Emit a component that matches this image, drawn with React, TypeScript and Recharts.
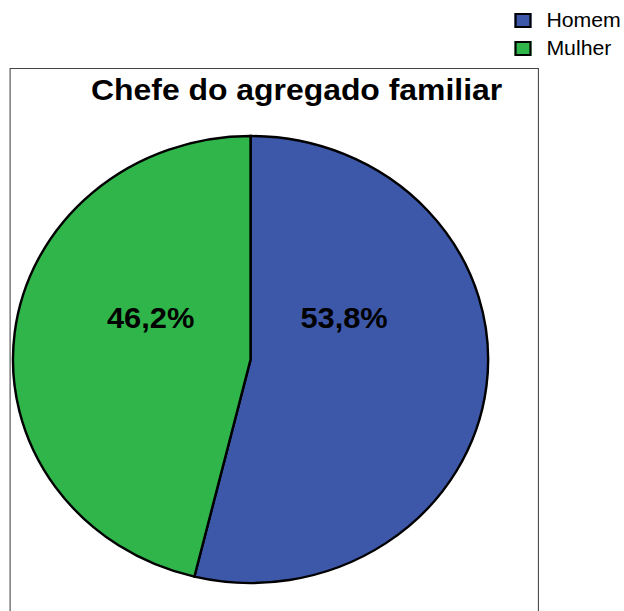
import React from "react";
import { PieChart, Pie, Cell } from "recharts";

// Values.
const categories = ["Homem", "Mulher"];
const percents = [53.8, 46.2];
const colors = ["#3E58A9", "#30B54A"];

const data = categories.map((name, i) => ({ name, value: percents[i] }));

const FONT = '"Liberation Sans", Arial, sans-serif';
// the reference looks stretched horizontally
const STRETCH = 1.063;

function fmt(v: number): string {
  return v.toFixed(1).replace(".", ",") + "%";
}

const RADIAN = Math.PI / 180;

function renderLabel(props: any) {
  const { cx, cy, midAngle, outerRadius, value } = props;
  const x = cx - 3 + Math.cos(-midAngle * RADIAN) * outerRadius * 0.41;
  const y = cy - outerRadius * 0.142;
  return (
    <text
      x={x}
      y={y}
      textAnchor="middle"
      fill="#000"
      fontFamily={FONT}
      fontWeight="bold"
      fontSize={29}
    >
      {fmt(value)}
    </text>
  );
}

function LegendBox() {
  return (
    <div style={{ position: "absolute", left: 483.5, top: 6, width: 100 }}>
      {categories.map((c, i) => (
        <div
          key={c}
          style={{ display: "flex", alignItems: "center", height: 28, fontFamily: FONT }}
        >
          <span
            style={{
              display: "inline-block",
              flex: "none",
              width: 16,
              height: 15,
              boxSizing: "border-box",
              border: "2px solid #000",
              background: colors[i],
            }}
          />
          <span style={{ marginLeft: 14.5, fontSize: 20, color: "#000", whiteSpace: "nowrap" }}>
            {c}
          </span>
        </div>
      ))}
    </div>
  );
}

export default function App() {
  return (
    <div
      style={{
        position: "absolute",
        left: 0,
        top: 0,
        width: 624,
        height: 611,
        overflow: "hidden",
        background: "#fff",
      }}
    >
      <div
        style={{
          position: "absolute",
          left: 0,
          top: 0,
          width: 587,
          height: 611,
          transform: `scaleX(${STRETCH})`,
          transformOrigin: "0 0",
        }}
      >
        <div
          style={{
            position: "absolute",
            left: 8.5,
            top: 68,
            width: 496,
            height: 620,
            border: "1px solid #444",
          }}
        />
        <div
          style={{
            position: "absolute",
            left: 79,
            top: 74.5,
            width: 400,
            textAlign: "center",
            fontFamily: FONT,
            fontWeight: "bold",
            fontSize: 30,
            lineHeight: "30px",
            color: "#000",
            whiteSpace: "nowrap",
          }}
        >
          Chefe do agregado familiar
        </div>
        <div style={{ position: "absolute", left: 0, top: 0 }}>
          <PieChart width={587} height={611} margin={{ top: 0, right: 0, bottom: 0, left: 0 }}>
            <Pie
              data={data}
              dataKey="value"
              nameKey="name"
              cx={235.7}
              cy={359.5}
              outerRadius={223.5}
              startAngle={90}
              endAngle={-270}
              stroke="#000"
              strokeWidth={2.3}
              label={renderLabel}
              labelLine={false}
              isAnimationActive={false}
            >
              {data.map((d, i) => (
                <Cell key={d.name} fill={colors[i]} />
              ))}
            </Pie>
          </PieChart>
        </div>
        <LegendBox />
      </div>
    </div>
  );
}
